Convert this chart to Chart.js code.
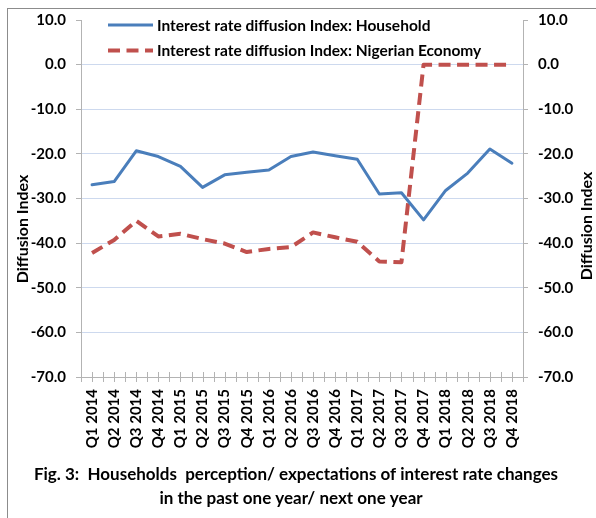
<!DOCTYPE html>
<html><head><meta charset="utf-8">
<script src="https://cdn.jsdelivr.net/npm/chart.js@4"></script>
<style>html,body{margin:0;padding:0;background:#fff;} canvas{display:block;}</style>
</head><body>
<canvas id="c" width="596" height="518"></canvas>
<script>
const categories = ["Q1 2014","Q2 2014","Q3 2014","Q4 2014","Q1 2015","Q2 2015","Q3 2015","Q4 2015","Q1 2016","Q2 2016","Q3 2016","Q4 2016","Q1 2017","Q2 2017","Q3 2017","Q4 2017","Q1 2018","Q2 2018","Q3 2018","Q4 2018"];
const householdValues = [-26.9,-26.2,-19.3,-20.6,-22.8,-27.5,-24.7,-24.1,-23.6,-20.6,-19.6,-20.4,-21.2,-29.0,-28.7,-34.8,-28.2,-24.3,-18.9,-22.1];
const economyValues = [-42.2,-39.3,-35.0,-38.5,-37.9,-39.1,-40.1,-42.0,-41.3,-40.9,-37.6,-38.7,-39.7,-44.1,-44.3,0.0,0.0,0.0,0.0,0.0];
const seriesNames = ["Interest rate diffusion Index: Household","Interest rate diffusion Index: Nigerian Economy"];
const yMin = -70, yMax = 10, yStep = 10;
const axisTitle = "Diffusion Index";
const titleLines = ["Fig. 3:  Households  perception/ expectations of interest rate changes","in the past one year/ next one year"];

const FONT = 'Lato, "Open Sans", sans-serif';
const axisColor = '#b3b3b3';
const gridColor = '#cdd9ee';
const blue = '#4a7ebb';
const red = '#c0504d';

const decor = {
  id: 'decor',
  beforeDraw(chart) {
    const ctx = chart.ctx;
    ctx.save();
    ctx.fillStyle = '#fff';
    ctx.fillRect(0, 0, chart.width, chart.height);
    ctx.strokeStyle = '#8c8c8c';
    ctx.lineWidth = 1;
    ctx.strokeRect(7.5, 8.5, chart.width + 10, chart.height + 10);
    ctx.restore();
  },
  afterDraw(chart) {
    const ctx = chart.ctx, area = chart.chartArea, xs = chart.scales.x;
    ctx.save();
    // cross tick marks on the category axis
    const half = (xs.getPixelForValue(1) - xs.getPixelForValue(0)) / 2;
    ctx.strokeStyle = axisColor;
    ctx.lineWidth = 1;
    ctx.beginPath();
    for (let i = 0; i < categories.length; i++) {
      const c = xs.getPixelForValue(i);
      [c - half, c, c + half].forEach(p => {
        const px = Math.round(p) + 0.5;
        ctx.moveTo(px, area.bottom - 5);
        ctx.lineTo(px, area.bottom + 5);
      });
    }
    ctx.stroke();
    // legend
    const ds = chart.data.datasets;
    const ly = [25, 50.5];
    ctx.font = 'bold 15.5px ' + FONT;
    ctx.textBaseline = 'middle';
    ctx.textAlign = 'left';
    ds.forEach((d, i) => {
      ctx.beginPath();
      ctx.strokeStyle = d.borderColor;
      ctx.lineWidth = d.borderWidth;
      ctx.setLineDash(d.borderDash || []);
      ctx.lineCap = 'butt';
      ctx.moveTo(108, ly[i]);
      ctx.lineTo(153, ly[i]);
      ctx.stroke();
      ctx.setLineDash([]);
      ctx.fillStyle = '#000';
      ctx.fillText(d.label, 157, ly[i] + 0.5);
    });
    // axis titles (both read bottom to top)
    ctx.font = 'bold 16px ' + FONT;
    ctx.textAlign = 'center';
    [[23, 229], [587, 226]].forEach(([x, y]) => {
      ctx.save();
      ctx.translate(x, y);
      ctx.rotate(-Math.PI / 2);
      ctx.fillText(axisTitle, 0, 0);
      ctx.restore();
    });
    // figure caption
    ctx.font = 'bold 17px ' + FONT;
    ctx.fillText(titleLines[0], 296, 475);
    ctx.fillText(titleLines[1], 291, 499);
    ctx.restore();
  }
};

const tickFont = { family: FONT, size: 15, weight: 'bold' };
const hideEdge = c => (c.tick && (c.tick.value === yMax || c.tick.value === yMin)) ? 'rgba(0,0,0,0)' : gridColor;

new Chart(document.getElementById('c'), {
  type: 'line',
  data: {
    labels: categories,
    datasets: [
      { label: seriesNames[0], data: householdValues, borderColor: blue, backgroundColor: blue, borderWidth: 3,
        pointRadius: 0, tension: 0, borderJoinStyle: 'round', borderCapStyle: 'round', yAxisID: 'y' },
      { label: seriesNames[1], data: economyValues, borderColor: red, backgroundColor: red, borderWidth: 4,
        borderDash: [12, 6.5], pointRadius: 0, tension: 0, borderJoinStyle: 'round', yAxisID: 'y' }
    ]
  },
  options: {
    responsive: false,
    animation: false,
    devicePixelRatio: 1,
    layout: { padding: { top: 20, left: 0, right: 0, bottom: 0 } },
    plugins: { legend: { display: false }, title: { display: false }, tooltip: { enabled: false } },
    scales: {
      x: {
        type: 'category',
        offset: true,
        grid: { display: false, drawTicks: false },
        border: { display: true, color: axisColor, width: 1 },
        ticks: { minRotation: 90, maxRotation: 90, autoSkip: false, padding: 12, color: '#000', font: tickFont },
        afterFit(s) { s.height = 141; }
      },
      y: {
        position: 'left', min: yMin, max: yMax,
        ticks: { stepSize: yStep, callback: v => Number(v).toFixed(1), padding: 10, color: '#000', font: tickFont },
        grid: { color: hideEdge, tickColor: axisColor, tickLength: 5, drawTicks: true },
        border: { color: axisColor },
        afterFit(s) { s.width = 81; }
      },
      y2: {
        position: 'right', min: yMin, max: yMax,
        ticks: { stepSize: yStep, callback: v => Number(v).toFixed(1), padding: 10, color: '#000', font: tickFont },
        grid: { drawOnChartArea: false, tickColor: axisColor, tickLength: 5, drawTicks: true },
        border: { color: axisColor },
        afterFit(s) { s.width = 73; }
      }
    }
  },
  plugins: [decor]
});
</script>
</body></html>
